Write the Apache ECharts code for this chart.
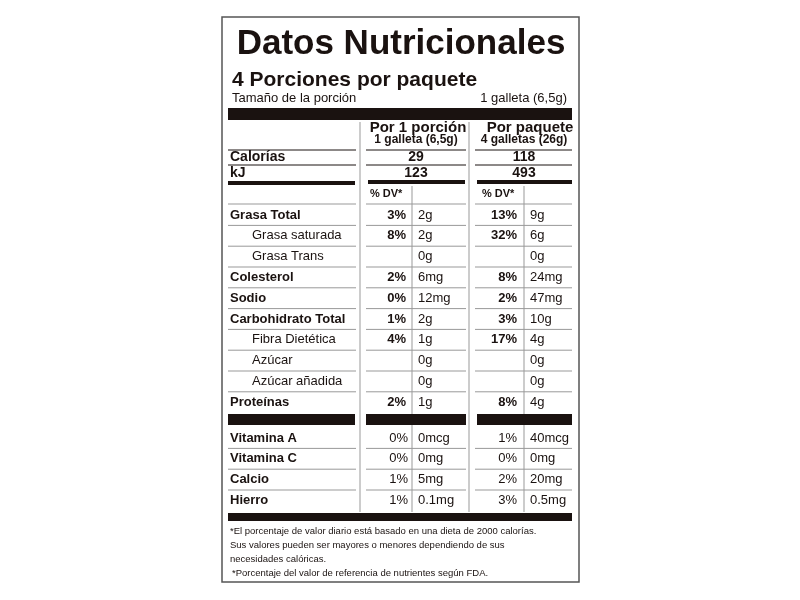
<!DOCTYPE html><html><head><meta charset="utf-8"><script src="https://cdn.jsdelivr.net/npm/echarts@6/dist/echarts.min.js"></script></head><body style="margin:0"><div id="c" style="width:800px;height:600px"></div><script>
const nutrients=["Grasa Total","Grasa saturada","Grasa Trans","Colesterol","Sodio","Carbohidrato Total","Fibra Dietética","Azúcar","Azúcar añadida","Proteínas"];
const indent=[0,1,1,0,0,0,1,1,1,0];
const dv1=["3%","8%","","2%","0%","1%","4%","","","2%"];
const amt1=["2g","2g","0g","6mg","12mg","2g","1g","0g","0g","1g"];
const dv2=["13%","32%","","8%","2%","3%","17%","","","8%"];
const amt2=["9g","6g","0g","24mg","47mg","10g","4g","0g","0g","4g"];
const vitamins=["Vitamina A","Vitamina C","Calcio","Hierro"];
const vdv1=["0%","0%","1%","1%"],vamt1=["0mcg","0mg","5mg","0.1mg"];
const vdv2=["1%","0%","2%","3%"],vamt2=["40mcg","0mg","20mg","0.5mg"];
const energy=[["Calorías","29","118"],["kJ","123","493"]];
const notes=["*El porcentaje de valor diario está basado en una dieta de 2000 calorías.","Sus valores pueden ser mayores o menores dependiendo de sus","necesidades calóricas.","*Porcentaje del valor de referencia de nutrientes según FDA."];
const F='Liberation Sans, Arial, sans-serif',K='#1a1210';
const g=[];
const R=(x,y,w,h,c)=>g.push({type:'rect',shape:{x,y,width:w,height:h},style:{fill:c||K}});
const T=(t,x,y,s,b,a)=>g.push({type:'text',x,y,style:{text:t,fontSize:s,fontWeight:b?'bold':'normal',fill:K,fontFamily:F,align:a||'left',verticalAlign:'middle'}});
const L=(x1,x2,y,c,w)=>g.push({type:'line',shape:{x1,y1:y,x2,y2:y},style:{stroke:c||'#999',lineWidth:w||1}});
const V=(x,y1,y2,c)=>g.push({type:'line',shape:{x1:x,y1,x2:x,y2},style:{stroke:c||'#999',lineWidth:1}});
g.push({type:'rect',shape:{x:222,y:17,width:357,height:565},style:{fill:'#fff',stroke:'#555',lineWidth:1.5}});
T('Datos Nutricionales',401,44,35,true,'center');
T('4 Porciones por paquete',232,80,21,true);
T('Tamaño de la porción',232,98,13);T('1 galleta (6,5g)',567,98,13,false,'right');
R(228,108,344,12);
V(360,122,512);V(469,122,512);
T('Por 1 porción',418,128,15,true,'center');T('1 galleta (6,5g)',416,140,12,true,'center');
T('Por paquete',530,128,15,true,'center');T('4 galletas (26g)',524,140,12,true,'center');
const segs=[[228,356],[366,466],[475,572]];
L(228,356,150,K);L(366,466,150,K);L(475,572,150,K);
energy.forEach((e,i)=>{const y=157+i*16;T(e[0],230,y,14,true);T(e[1],416,y,14,true,'center');T(e[2],524,y,14,true,'center');});
L(228,356,165,K);L(366,466,165,K);L(475,572,165,K);
R(228,181,127,4);R(368,180,97,4);R(477,180,95,4);
V(412,186,512);V(524,186,512);
T('% DV*',370,194,11,true);T('% DV*',482,194,11,true);
L(228,356,204);L(366,466,204);L(475,572,204);
nutrients.forEach((n,i)=>{const y=215+i*20.8;
T(n,indent[i]?252:230,y,13,!indent[i]);
T(dv1[i],406,y,13,true,'right');T(amt1[i],418,y,13);
T(dv2[i],517,y,13,true,'right');T(amt2[i],530,y,13);
if(i<9)segs.forEach(s=>L(s[0],s[1],y+10.4));});
R(228,414,127,11);R(366,414,100,11);R(477,414,95,11);
vitamins.forEach((n,i)=>{const y=438+i*20.8;
T(n,230,y,13,true);T(vdv1[i],408,y,13,false,'right');T(vamt1[i],418,y,13);
T(vdv2[i],517,y,13,false,'right');T(vamt2[i],530,y,13);
if(i<3)segs.forEach(s=>L(s[0],s[1],y+10.4));});
R(228,513,344,8);
notes.forEach((t,i)=>T(t,i==3?232:230,531+i*14,9.5));
echarts.init(document.getElementById('c')).setOption({graphic:{elements:g}});
</script></body></html>
